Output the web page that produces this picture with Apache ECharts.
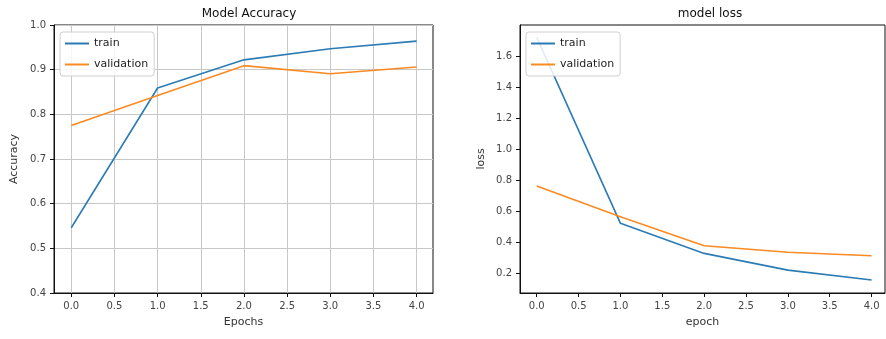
<!DOCTYPE html>
<html>
<head>
<meta charset="utf-8">
<script src="https://cdn.jsdelivr.net/npm/echarts@6/dist/echarts.min.js"></script>
<style>
  html, body { margin: 0; padding: 0; background: #fff; }
  #main { width: 886px; height: 339px; }
</style>
</head>
<body>
<div id="main"></div>
<script>
const epochs = [0, 1, 2, 3, 4];
const accTrain = [0.546, 0.859, 0.922, 0.947, 0.964];
const accVal = [0.775, 0.842, 0.909, 0.891, 0.906];
const lossTrain = [1.725, 0.523, 0.329, 0.221, 0.157];
const lossVal = [0.764, 0.566, 0.378, 0.336, 0.314];
const xTicks = [0, 0.5, 1, 1.5, 2, 2.5, 3, 3.5, 4];
const accTicks = [0.4, 0.5, 0.6, 0.7, 0.8, 0.9, 1.0];
const lossTicks = [0.2, 0.4, 0.6, 0.8, 1.0, 1.2, 1.4, 1.6];

const BLUE = '#2b7bb5';
const ORANGE = '#fb8a22';
const FONT = 'DejaVu Sans';

const pairs = (xs, ys) => xs.map((x, i) => [x, ys[i]]);

function xAxis(gridIndex, withGrid, max) {
  return {
    type: 'value', gridIndex: gridIndex, min: -0.2, max: max,
    name: gridIndex === 0 ? 'Epochs' : 'epoch',
    nameLocation: 'middle', nameGap: 24,
    nameTextStyle: { fontFamily: FONT, fontSize: 11, color: '#333' },
    axisLine: { show: true, onZero: false, lineStyle: { color: '#111', width: 1 } },
    axisTick: { show: true, inside: false, length: 4, customValues: xTicks, lineStyle: { color: '#111' } },
    axisLabel: { customValues: xTicks, fontFamily: FONT, fontSize: 10, color: '#444', margin: 8,
      formatter: v => v.toFixed(1) },
    splitLine: { show: withGrid, lineStyle: { color: '#c8c8c8', width: 1 } }
  };
}

function yAxis(gridIndex, min, max, ticks, name, withGrid, gap) {
  return {
    type: 'value', gridIndex: gridIndex, min: min, max: max,
    name: name, nameLocation: 'middle', nameGap: gap,
    nameTextStyle: { fontFamily: FONT, fontSize: 11, color: '#333' },
    axisLine: { show: true, onZero: false, lineStyle: { color: '#111', width: 1 } },
    axisTick: { show: true, inside: false, length: 4, customValues: ticks, lineStyle: { color: '#111' } },
    axisLabel: { customValues: ticks, fontFamily: FONT, fontSize: 10, color: '#444', margin: 8,
      formatter: v => v.toFixed(1) },
    splitLine: { show: withGrid, lineStyle: { color: '#c8c8c8', width: 1 } }
  };
}

function legend(left) {
  return {
    left: left, top: 32, orient: 'vertical',
    data: ['train', 'validation'],
    icon: 'rect', itemWidth: 24, itemHeight: 2, itemGap: 10,
    backgroundColor: 'rgba(255,255,255,0.85)', borderColor: '#d0d0d0', borderWidth: 1, borderRadius: 3,
    padding: [6, 6, 6, 5],
    textStyle: { fontFamily: FONT, fontSize: 11, color: '#222' }
  };
}

function line(name, data, color, xi) {
  return {
    name: name, type: 'line', xAxisIndex: xi, yAxisIndex: xi,
    data: data, symbol: 'none', lineStyle: { color: color, width: 1.6 },
    itemStyle: { color: color }, animation: false
  };
}

const chart = echarts.init(document.getElementById('main'));
chart.setOption({
  backgroundColor: '#fff',
  animation: false,
  title: [
    { text: 'Model Accuracy', left: 244, top: 3, textAlign: 'center',
      textStyle: { fontFamily: FONT, fontSize: 12, fontWeight: 'normal', color: '#111' } },
    { text: 'model loss', left: 705, top: 3, textAlign: 'center',
      textStyle: { fontFamily: FONT, fontSize: 12, fontWeight: 'normal', color: '#111' } }
  ],
  legend: [legend(60), legend(526)],
  grid: [
    { left: 54, right: 453, top: 25, bottom: 46, show: true, borderColor: '#111', borderWidth: 1 },
    { left: 520, right: 1, top: 25, bottom: 46, show: true, borderColor: '#111', borderWidth: 1 }
  ],
  xAxis: [xAxis(0, true, 4.19), xAxis(1, false, 4.16)],
  yAxis: [
    yAxis(0, 0.4, 1.0, accTicks, 'Accuracy', true, 34),
    yAxis(1, 0.073, 1.805, lossTicks, 'loss', false, 33)
  ],
  series: [
    line('train', pairs(epochs, accTrain), BLUE, 0),
    line('validation', pairs(epochs, accVal), ORANGE, 0),
    line('train', pairs(epochs, lossTrain), BLUE, 1),
    line('validation', pairs(epochs, lossVal), ORANGE, 1)
  ]
});
</script>
</body>
</html>
